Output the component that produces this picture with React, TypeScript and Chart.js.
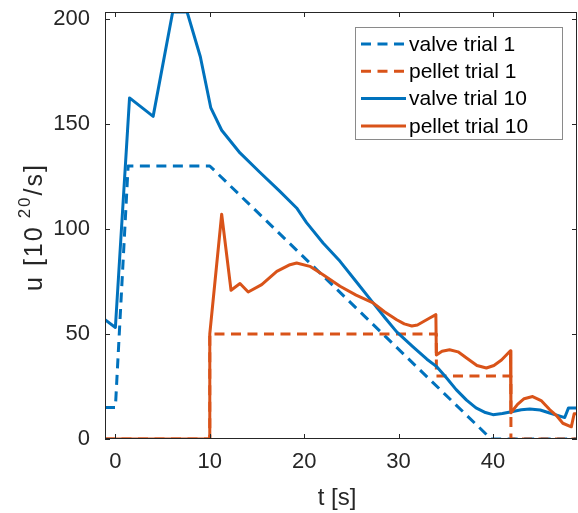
import React, { useEffect, useRef } from "react";
import { Chart, registerables } from "chart.js";

Chart.register(...registerables);

const BLUE = "#0072BD";
const ORANGE = "#D95319";
const AXIS_COLOR = "#262626";
const FONT = "'Liberation Sans', Arial, Helvetica, sans-serif";

// Axis limits (tight to the data) and tick positions
const xLimits = [-1.1, 48.9];
const yLimits = [0, 203.3];
const xTicks = [0, 10, 20, 30, 40];
const yTicks = [0, 50, 100, 150, 200];

// valve trial 1 (dashed blue)
const valve1T = [-1.1, 0, 0, 1.35, 10, 39.8, 48.9];
const valve1U = [15, 15, 15, 130, 130, 0, 0];

// pellet trial 1 (dashed orange)
const pellet1T = [-1.1, 10, 10, 34.0, 34.0, 41.9, 41.9, 48.9];
const pellet1U = [0, 0, 50, 50, 30, 30, 0, 0];

// valve trial 10 (solid blue)
const valve10T = [
  -1.1, 0, 1.5, 4.0, 6.07, 7.6, 9.0, 10.1, 11.26, 13.2, 15.3, 17.4, 19.2,
  20.25, 22.0, 23.8, 25.5, 27.3, 28.6, 29.8, 31.5, 33.0, 34.0, 35.0, 36.1,
  37.2, 38.2, 39.2, 40.0, 41.0, 42.1, 43.0, 43.9, 45.0, 46.0, 47.6, 47.6,
  48.0, 48.9,
];
const valve10U = [
  56.8, 53.1, 162.4, 153.6, 203.3, 203.3, 182, 157.8, 147, 136.2, 127, 118,
  110, 103, 93.3, 84.6, 75, 64.8, 57.5, 51, 44, 38, 34.6, 29.5, 23.5, 18.5,
  14.8, 12.6, 11.6, 12.1, 13.1, 13.9, 14.3, 13.8, 12.4, 10.2, 10.2, 14.8, 14.8,
];

// pellet trial 10 (solid orange)
const pellet10T = [
  -1.1, 10, 10, 11.26, 12.25, 13.2, 14.07, 15.5, 17.1, 18.5, 19.2, 20.6, 22.0,
  23.8, 25.5, 27.3, 28.5, 29.8, 30.6, 31.4, 32.0, 32.6, 33.3, 33.95, 34.0,
  34.6, 35.4, 36.3, 37.2, 38.3, 39.3, 40.1, 40.9, 41.85, 41.9, 42.6, 43.3,
  44.2, 45.1, 46.0, 46.7, 47.4, 48.3, 48.6, 48.9,
];
const pellet10U = [
  0, 0, 50, 107, 70.8, 74, 70, 73.5, 79.8, 83, 83.8, 82.2, 78.2, 72.7, 68.5,
  64.8, 60.6, 56.8, 54.8, 53.8, 54.3, 55.8, 57.6, 59.2, 40, 41.8, 42.5, 41.5,
  38.6, 35, 33.8, 35, 37.6, 42, 12.5, 16.5, 19.2, 20.2, 18.3, 14, 11.3, 7.5,
  5.8, 12, 12,
];

const toPoints = (t: number[], u: number[]) =>
  t.map((x, i) => ({ x, y: u[i] }));

const DASH = [10, 6.5];
const LINE_W = 3;

// Box frame with inward ticks on all four sides, axis titles and legend
const matlabAxesPlugin = {
  id: "matlabAxes",
  afterDraw(chart: any) {
    const { ctx, chartArea, scales } = chart;
    const { left, right, top, bottom } = chartArea;
    const tickLen = 5;
    ctx.save();
    ctx.strokeStyle = AXIS_COLOR;
    ctx.lineWidth = 1;
    ctx.strokeRect(left + 0.5, top + 0.5, right - left - 1, bottom - top - 1);
    ctx.beginPath();
    xTicks.forEach((v) => {
      const px = Math.round(scales.x.getPixelForValue(v)) + 0.5;
      ctx.moveTo(px, bottom);
      ctx.lineTo(px, bottom - tickLen);
      ctx.moveTo(px, top);
      ctx.lineTo(px, top + tickLen);
    });
    yTicks.forEach((v) => {
      const py = Math.round(scales.y.getPixelForValue(v)) + 0.5;
      ctx.moveTo(left, py);
      ctx.lineTo(left + tickLen, py);
      ctx.moveTo(right, py);
      ctx.lineTo(right - tickLen, py);
    });
    ctx.stroke();

    // x axis title
    ctx.fillStyle = AXIS_COLOR;
    ctx.font = `24px ${FONT}`;
    ctx.textAlign = "center";
    ctx.textBaseline = "alphabetic";
    ctx.fillText("t [s]", (left + right) / 2 - 4, 505);

    // y axis title with superscript exponent
    ctx.save();
    ctx.translate(42, 227);
    ctx.rotate(-Math.PI / 2);
    ctx.textAlign = "left";
    ctx.textBaseline = "alphabetic";
    (ctx as any).letterSpacing = "2px";
    const mainFont = `25px ${FONT}`;
    const supFont = `17px ${FONT}`;
    const partA = "u [10";
    const partB = "20";
    const partC = "/s]";
    ctx.font = mainFont;
    const wA = ctx.measureText(partA).width;
    const wC = ctx.measureText(partC).width;
    ctx.font = supFont;
    const wB = ctx.measureText(partB).width;
    const gap = 7;
    const total = wA + gap + wB + wC;
    let cx = -total / 2;
    ctx.font = mainFont;
    ctx.fillText(partA, cx, 0);
    cx += wA + gap;
    ctx.font = supFont;
    ctx.fillText(partB, cx, -12);
    cx += wB;
    ctx.font = mainFont;
    ctx.fillText(partC, cx, 0);
    ctx.restore();

    // legend
    const lx0 = 355, ly0 = 27, lx1 = 563, ly1 = 140;
    ctx.fillStyle = "#ffffff";
    ctx.fillRect(lx0, ly0, lx1 - lx0, ly1 - ly0);
    ctx.strokeStyle = "#8a8a8a";
    ctx.lineWidth = 1;
    ctx.strokeRect(lx0 + 0.5, ly0 + 0.5, lx1 - lx0 - 1, ly1 - ly0 - 1);
    ctx.font = `21px ${FONT}`;
    ctx.textAlign = "left";
    ctx.textBaseline = "middle";
    chart.data.datasets.forEach((ds: any, i: number) => {
      const y = 44 + i * 27.3;
      ctx.save();
      ctx.strokeStyle = ds.borderColor;
      ctx.lineWidth = ds.borderWidth;
      ctx.setLineDash(ds.borderDash || []);
      ctx.beginPath();
      ctx.moveTo(361, y);
      ctx.lineTo(406, y);
      ctx.stroke();
      ctx.restore();
      ctx.fillStyle = "#000000";
      ctx.fillText(ds.label, 409, y + 1);
    });
    ctx.restore();
  },
};

export default function App() {
  const canvasRef = useRef<HTMLCanvasElement | null>(null);

  useEffect(() => {
    if (!canvasRef.current) return;
    const chart = new Chart(canvasRef.current, {
      type: "line",
      data: {
        datasets: [
          {
            label: "valve trial 1",
            data: toPoints(valve1T, valve1U),
            borderColor: BLUE,
            borderWidth: LINE_W,
            borderDash: DASH,
            order: 3,
          },
          {
            label: "pellet trial 1",
            data: toPoints(pellet1T, pellet1U),
            borderColor: ORANGE,
            borderWidth: LINE_W,
            borderDash: DASH,
            order: 2,
          },
          {
            label: "valve trial 10",
            data: toPoints(valve10T, valve10U),
            borderColor: BLUE,
            borderWidth: LINE_W,
            order: 1,
          },
          {
            label: "pellet trial 10",
            data: toPoints(pellet10T, pellet10U),
            borderColor: ORANGE,
            borderWidth: LINE_W,
            order: 0,
          },
        ],
      },
      options: {
        animation: false,
        responsive: false,
        devicePixelRatio: 1,
        elements: {
          point: { radius: 0, hoverRadius: 0 },
          line: { tension: 0, fill: false, borderJoinStyle: "round" },
        },
        layout: { padding: { top: 12, right: 1, left: 0, bottom: 0 } },
        plugins: {
          legend: { display: false },
          tooltip: { enabled: false },
        },
        scales: {
          x: {
            type: "linear",
            min: xLimits[0],
            max: xLimits[1],
            grid: { display: false, drawTicks: false },
            border: { display: false },
            afterBuildTicks: (scale: any) => {
              scale.ticks = xTicks.map((v) => ({ value: v }));
            },
            afterFit: (scale: any) => {
              scale.height = 74;
              scale.paddingLeft = 0;
              scale.paddingRight = 0;
            },
            ticks: {
              padding: 10,
              color: AXIS_COLOR,
              font: { family: FONT, size: 22 },
              maxRotation: 0,
              autoSkip: false,
            },
          },
          y: {
            type: "linear",
            min: yLimits[0],
            max: yLimits[1],
            grid: { display: false, drawTicks: false },
            border: { display: false },
            afterBuildTicks: (scale: any) => {
              scale.ticks = yTicks.map((v) => ({ value: v }));
            },
            afterFit: (scale: any) => {
              scale.width = 105;
              scale.paddingTop = 0;
              scale.paddingBottom = 0;
            },
            ticks: {
              padding: 15,
              color: AXIS_COLOR,
              font: { family: FONT, size: 22 },
              autoSkip: false,
            },
          },
        },
      },
      plugins: [matlabAxesPlugin],
    });
    return () => chart.destroy();
  }, []);

  return (
    <div style={{ position: "fixed", left: 0, top: 0, width: 578, height: 513, background: "#ffffff" }}>
      <canvas ref={canvasRef} width={578} height={513} style={{ display: "block" }} />
    </div>
  );
}
